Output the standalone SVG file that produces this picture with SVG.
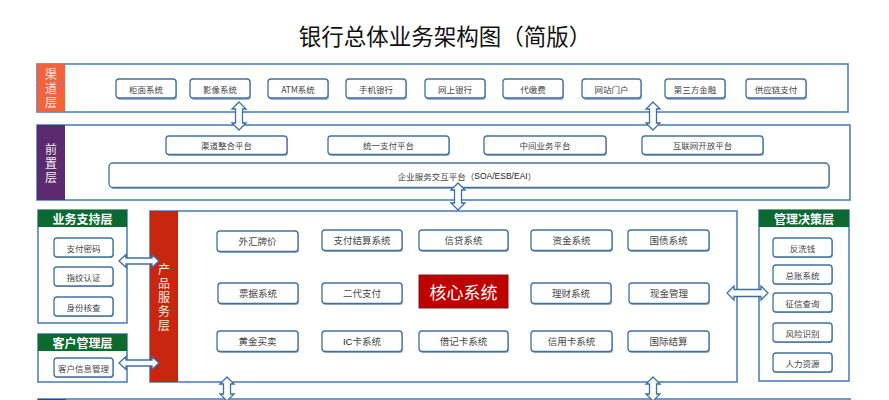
<svg xmlns="http://www.w3.org/2000/svg" width="889" height="400" viewBox="0 0 889 400">
<style>
.outer{fill:#fff;stroke:#4f81bd;stroke-width:1.6}
.btn{fill:#fff;stroke:#41719c;stroke-width:1.3}
.sh{fill:#9ab3cf}
.bt{font-family:"Noto Sans CJK SC","Liberation Serif",serif;font-size:8.5px;fill:#444;text-anchor:middle;dominant-baseline:central}
.pt{font-family:"Noto Sans CJK SC","Liberation Serif",serif;font-size:9.5px;fill:#444;text-anchor:middle;dominant-baseline:central}
.band{font-family:"Noto Sans CJK SC",sans-serif;font-size:12px;letter-spacing:2px;fill:#fde9e3;text-anchor:middle;dominant-baseline:central;writing-mode:vertical-rl}
.hdr{font-family:"Noto Sans CJK SC",sans-serif;font-size:12px;font-weight:bold;fill:#fff;text-anchor:middle;dominant-baseline:central}
.arr{fill:#fff;stroke:#3c6ea5;stroke-width:1.3;stroke-linejoin:miter}
</style>
<rect width="889" height="400" fill="#fff"/>
<text x="445" y="35" font-family="Noto Sans CJK SC,sans-serif" font-size="22.5" fill="#111" text-anchor="middle" dominant-baseline="central">银行总体业务架构图（简版）</text>

<g id="channel-layer">
<rect class="outer" x="37" y="64" width="811" height="48"/>
<rect x="37" y="64" width="28" height="48" fill="#f0633d"/>
<text class="band" x="51" y="89">渠道层</text>
<g id="c1"><rect class="sh" x="117" y="80" width="60" height="20" rx="3"/><rect class="btn" x="116" y="79" width="60" height="19" rx="3"/><text class="bt" x="146" y="88.5">柜面系统</text></g>
<g id="c2"><rect class="sh" x="191" y="80" width="60" height="20" rx="3"/><rect class="btn" x="190" y="79" width="60" height="19" rx="3"/><text class="bt" x="220" y="88.5">影像系统</text></g>
<g id="c3"><rect class="sh" x="269" y="80" width="60" height="20" rx="3"/><rect class="btn" x="268" y="79" width="60" height="19" rx="3"/><text class="bt" x="298" y="88.5" font-family="Liberation Sans,Noto Sans CJK SC,sans-serif" fill="#222">ATM系统</text></g>
<g id="c4"><rect class="sh" x="347" y="80" width="60" height="20" rx="3"/><rect class="btn" x="346" y="79" width="60" height="19" rx="3"/><text class="bt" x="376" y="88.5">手机银行</text></g>
<g id="c5"><rect class="sh" x="426" y="80" width="60" height="20" rx="3"/><rect class="btn" x="425" y="79" width="60" height="19" rx="3"/><text class="bt" x="455" y="88.5">网上银行</text></g>
<g id="c6"><rect class="sh" x="504" y="80" width="60" height="20" rx="3"/><rect class="btn" x="503" y="79" width="60" height="19" rx="3"/><text class="bt" x="533" y="88.5">代缴费</text></g>
<g id="c7"><rect class="sh" x="583" y="80" width="59" height="20" rx="3"/><rect class="btn" x="582" y="79" width="59" height="19" rx="3"/><text class="bt" x="611.5" y="88.5">网站门户</text></g>
<g id="c8"><rect class="sh" x="666" y="80" width="60" height="20" rx="3"/><rect class="btn" x="665" y="79" width="60" height="19" rx="3"/><text class="bt" x="695" y="88.5">第三方金融</text></g>
<g id="c9"><rect class="sh" x="747" y="80" width="60" height="20" rx="3"/><rect class="btn" x="746" y="79" width="60" height="19" rx="3"/><text class="bt" x="776" y="88.5">供应链支付</text></g>
</g>

<g id="front-layer">
<rect class="outer" x="37" y="125" width="813" height="75"/>
<rect x="37" y="125" width="28" height="75" fill="#5c2b6f"/>
<text class="band" x="51" y="164" style="fill:#eee">前置层</text>
<g id="f1"><rect class="sh" x="167" y="137" width="121" height="19" rx="3"/><rect class="btn" x="166" y="136" width="121" height="18.5" rx="3"/><text class="bt" x="226.5" y="145">渠道整合平台</text></g>
<g id="f2"><rect class="sh" x="329" y="137" width="121" height="19" rx="3"/><rect class="btn" x="328" y="136" width="121" height="18.5" rx="3"/><text class="bt" x="388.5" y="145">统一支付平台</text></g>
<g id="f3"><rect class="sh" x="485" y="137" width="122" height="19" rx="3"/><rect class="btn" x="484" y="136" width="122" height="18.5" rx="3"/><text class="bt" x="545" y="145">中间业务平台</text></g>
<g id="f4"><rect class="sh" x="643" y="137" width="121" height="19" rx="3"/><rect class="btn" x="642" y="136" width="121" height="18.5" rx="3"/><text class="bt" x="702.5" y="145">互联网开放平台</text></g>
<g id="f5"><rect class="sh" x="110" y="164" width="720" height="25" rx="4"/><rect class="btn" x="109" y="163" width="720" height="24.5" rx="4"/><text class="bt" x="467" y="175.5">企业服务交互平台（<tspan font-family="Liberation Sans,sans-serif" fill="#222">SOA/ESB/EAI</tspan>）</text></g>
</g>

<g id="biz-support-layer">
<rect class="outer" x="38" y="210" width="89" height="113"/>
<rect x="38" y="210" width="89" height="17" fill="#0d6a2e"/>
<text class="hdr" x="82.5" y="218.5">业务支持层</text>
<g id="b1"><rect class="sh" x="55" y="239" width="59" height="19" rx="3"/><rect class="btn" x="54" y="238" width="59" height="19" rx="3"/><text class="bt" x="83.5" y="247.5" font-size="8">支付密码</text></g>
<g id="b2"><rect class="sh" x="55" y="268" width="59" height="19" rx="3"/><rect class="btn" x="54" y="267" width="59" height="19" rx="3"/><text class="bt" x="83.5" y="276.5" font-size="8">指纹认证</text></g>
<g id="b3"><rect class="sh" x="55" y="298" width="59" height="19" rx="3"/><rect class="btn" x="54" y="297" width="59" height="19" rx="3"/><text class="bt" x="83.5" y="306.5" font-size="8">身份核查</text></g>
</g>

<g id="customer-layer">
<rect class="outer" x="38" y="334" width="89" height="48"/>
<rect x="38" y="334" width="89" height="17" fill="#0d6a2e"/>
<text class="hdr" x="82.5" y="342.5">客户管理层</text>
<g id="k1"><rect class="sh" x="55" y="359" width="59" height="19" rx="3"/><rect class="btn" x="54" y="358" width="59" height="19" rx="3"/><text class="bt" x="83.5" y="367.5" font-size="8">客户信息管理</text></g>
</g>

<g id="product-layer">
<rect class="outer" x="150" y="211" width="587" height="171"/>
<rect x="150" y="211" width="28" height="171" fill="#c8260e"/>
<text class="band" x="164" y="298">产品服务层</text>
<g id="p1"><rect class="sh" x="218" y="232" width="81" height="21" rx="3"/><rect class="btn" x="217" y="231" width="81" height="20.5" rx="3"/><text class="pt" x="257.5" y="241">外汇牌价</text></g>
<g id="p2"><rect class="sh" x="323" y="231" width="80" height="21" rx="3"/><rect class="btn" x="322" y="230" width="80" height="20.5" rx="3"/><text class="pt" x="362" y="240">支付结算系统</text></g>
<g id="p3"><rect class="sh" x="420" y="231" width="89" height="21" rx="3"/><rect class="btn" x="419" y="230" width="89" height="20.5" rx="3"/><text class="pt" x="463.5" y="240">信贷系统</text></g>
<g id="p4"><rect class="sh" x="532" y="231" width="81" height="21" rx="3"/><rect class="btn" x="531" y="230" width="81" height="20.5" rx="3"/><text class="pt" x="571.5" y="240">资金系统</text></g>
<g id="p5"><rect class="sh" x="629" y="231" width="81" height="21" rx="3"/><rect class="btn" x="628" y="230" width="81" height="20.5" rx="3"/><text class="pt" x="668.5" y="240">国债系统</text></g>
<g id="p6"><rect class="sh" x="219" y="284" width="80" height="21" rx="3"/><rect class="btn" x="218" y="283" width="80" height="20.5" rx="3"/><text class="pt" x="258" y="293">票据系统</text></g>
<g id="p7"><rect class="sh" x="323" y="284" width="80" height="21" rx="3"/><rect class="btn" x="322" y="283" width="80" height="20.5" rx="3"/><text class="pt" x="362" y="293">二代支付</text></g>
<g id="core"><rect x="419" y="275" width="89" height="33" fill="#c00000" stroke="#7a1a1a" stroke-width="1"/><text x="463.5" y="291.5" font-family="Noto Sans CJK SC,sans-serif" font-size="17" fill="#fff" text-anchor="middle" dominant-baseline="central">核心系统</text></g>
<g id="p8"><rect class="sh" x="532" y="284" width="80" height="21" rx="3"/><rect class="btn" x="531" y="283" width="80" height="20.5" rx="3"/><text class="pt" x="571" y="293">理财系统</text></g>
<g id="p9"><rect class="sh" x="630" y="284" width="80" height="21" rx="3"/><rect class="btn" x="629" y="283" width="80" height="20.5" rx="3"/><text class="pt" x="669" y="293">现金管理</text></g>
<g id="p10"><rect class="sh" x="218" y="332" width="81" height="21" rx="3"/><rect class="btn" x="217" y="331" width="81" height="20.5" rx="3"/><text class="pt" x="257.5" y="341">黄金买卖</text></g>
<g id="p11"><rect class="sh" x="323" y="332" width="80" height="21" rx="3"/><rect class="btn" x="322" y="331" width="80" height="20.5" rx="3"/><text class="pt" x="362" y="341"><tspan font-family="Liberation Sans,sans-serif" fill="#222">IC</tspan>卡系统</text></g>
<g id="p12"><rect class="sh" x="420" y="332" width="89" height="21" rx="3"/><rect class="btn" x="419" y="331" width="89" height="20.5" rx="3"/><text class="pt" x="463.5" y="341">借记卡系统</text></g>
<g id="p13"><rect class="sh" x="532" y="332" width="81" height="21" rx="3"/><rect class="btn" x="531" y="331" width="81" height="20.5" rx="3"/><text class="pt" x="571.5" y="341">信用卡系统</text></g>
<g id="p14"><rect class="sh" x="629" y="332" width="81" height="21" rx="3"/><rect class="btn" x="628" y="331" width="81" height="20.5" rx="3"/><text class="pt" x="668.5" y="341">国际结算</text></g>
</g>

<g id="mgmt-layer">
<rect class="outer" x="759" y="210" width="90" height="171"/>
<rect x="759" y="210" width="90" height="17" fill="#0d6a2e"/>
<text class="hdr" x="804" y="218.5">管理决策层</text>
<g id="m1"><rect class="sh" x="774" y="239" width="59" height="19" rx="3"/><rect class="btn" x="773" y="238" width="59" height="19" rx="3"/><text class="bt" x="802.5" y="247.5" font-size="8">反洗钱</text></g>
<g id="m2"><rect class="sh" x="774" y="266" width="59" height="19" rx="3"/><rect class="btn" x="773" y="265" width="59" height="19" rx="3"/><text class="bt" x="802.5" y="274.5" font-size="8">总账系统</text></g>
<g id="m3"><rect class="sh" x="774" y="294" width="59" height="19" rx="3"/><rect class="btn" x="773" y="293" width="59" height="19" rx="3"/><text class="bt" x="802.5" y="302.5" font-size="8">征信查询</text></g>
<g id="m4"><rect class="sh" x="774" y="324" width="59" height="19" rx="3"/><rect class="btn" x="773" y="323" width="59" height="19" rx="3"/><text class="bt" x="802.5" y="332.5" font-size="8">风险识别</text></g>
<g id="m5"><rect class="sh" x="774" y="354" width="59" height="19" rx="3"/><rect class="btn" x="773" y="353" width="59" height="19" rx="3"/><text class="bt" x="802.5" y="362.5" font-size="8">人力资源</text></g>
</g>

<g id="bottom-layer">
<rect class="outer" x="38" y="399" width="812" height="20"/>
<rect x="38" y="399" width="28" height="20" fill="#0d6a2e"/>
</g>

<g id="connectors">
<path class="arr" d="M239,102 L246,109 L242.5,109 L242.5,123 L246,123 L239,130 L232,123 L235.5,123 L235.5,109 L232,109 Z"/>
<path class="arr" d="M653,102 L660,109 L656.5,109 L656.5,123 L660,123 L653,130 L646,123 L649.5,123 L649.5,109 L646,109 Z"/>
<path class="arr" d="M458,183 L465,190 L461.5,190 L461.5,203 L465,203 L458,210 L451,203 L454.5,203 L454.5,190 L451,190 Z"/>
<path class="arr" d="M119,261 L126,254.5 L126,258 L152,258 L152,254.5 L159,261 L152,267.5 L152,264 L126,264 L126,267.5 Z"/>
<path class="arr" d="M119,363 L126,356.5 L126,360 L152,360 L152,356.5 L159,363 L152,369.5 L152,366 L126,366 L126,369.5 Z"/>
<path class="arr" d="M727,293 L734,286 L734,289.5 L761,289.5 L761,286 L768,293 L761,300 L761,296.5 L734,296.5 L734,300 Z"/>
<path class="arr" d="M227,377 L234,384 L230.5,384 L230.5,394 L234,394 L227,401 L220,394 L223.5,394 L223.5,384 L220,384 Z"/>
<path class="arr" d="M653,377 L660,384 L656.5,384 L656.5,394 L660,394 L653,401 L646,394 L649.5,394 L649.5,384 L646,384 Z"/>
</g>
</svg>
